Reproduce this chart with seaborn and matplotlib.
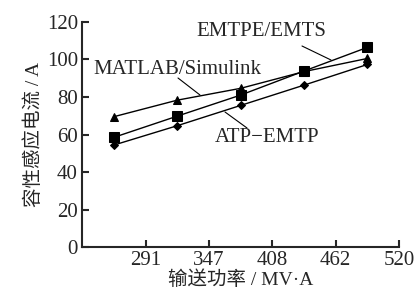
import numpy as np
import pandas as pd
import matplotlib.pyplot as plt
import seaborn as sns

# x tick labels (evenly spaced on the original chart)
power_ticks = ["291", "347", "408", "462", "520"]
# points sit half way between ticks
point_pos = [0.5, 1.5, 2.5, 3.5, 4.5]

matlab = [69.5, 78.3, 84.6, 93.5, 100.5]
emtpe = [58.5, 69.8, 81.0, 93.8, 106.4]
atp = [54.4, 64.7, 75.5, 86.3, 97.3]

series_names = ["MATLAB/Simulink", "EMTPE/EMTS", "ATP\u2212EMTP"]

df = pd.DataFrame({
    "pos": point_pos * 3,
    "current": matlab + emtpe + atp,
    "model": np.repeat(series_names, len(point_pos)),
})

sns.set_style("ticks")
plt.rcParams["font.family"] = ["Liberation Serif", "Noto Sans CJK SC"]
plt.rcParams["axes.linewidth"] = 1.5

fig, ax = plt.subplots(figsize=(4.17, 2.99), dpi=100)
fig.subplots_adjust(left=0.197, right=0.957, top=0.927, bottom=0.173)

sns.lineplot(data=df, x="pos", y="current", hue="model", style="model",
             palette=["black"] * 3, markers=["^", "s", "D"], dashes=False,
             markersize=6, markeredgecolor="black", linewidth=1.0,
             legend=False, ax=ax)

# bigger squares, smaller diamonds
for line in ax.get_lines():
    if line.get_marker() == "s":
        line.set_markersize(7.5)
    elif line.get_marker() == "D":
        line.set_markersize(4.5)

ax.set_xlim(0, 5)
ax.set_ylim(0, 120)
ax.set_xticks([1, 2, 3, 4, 5])
ax.set_xticklabels(power_ticks)
ax.set_yticks(range(0, 121, 20))
ax.tick_params(direction="in", length=5, width=1.5, labelsize=15, pad=3)
sns.despine(ax=ax)

# latin parts in serif, chinese falls back to the CJK font
lab_fonts = ["Liberation Serif", "Noto Sans CJK SC"]
ax.set_xlabel("输送功率 / MV\u00b7A", fontsize=14, family=lab_fonts, labelpad=0)
ax.set_ylabel("容性感应电流 / A", fontsize=14, family=lab_fonts, labelpad=3)


def fp(px, py):
    return (px / 417, 1 - py / 299)


tfs = 15
labels = [
    ("EMTPE/EMTS", (261, 32), (302, 46), (331, 60)),
    ("MATLAB/Simulink", (177, 69), (178, 78), (200, 95)),
    ("ATP\u2212EMTP", (267, 138), (225, 112), (247, 128)),
]
for text, tpos, p0, p1 in labels:
    fig.text(*fp(*tpos), text, ha="center", va="center", fontsize=tfs)
    ax.annotate("", xy=fp(*p1), xytext=fp(*p0), xycoords="figure fraction",
                textcoords="figure fraction",
                arrowprops=dict(arrowstyle="-", color="black", lw=0.8,
                                shrinkA=0, shrinkB=0))

fig.savefig("out.png", dpi=100)
